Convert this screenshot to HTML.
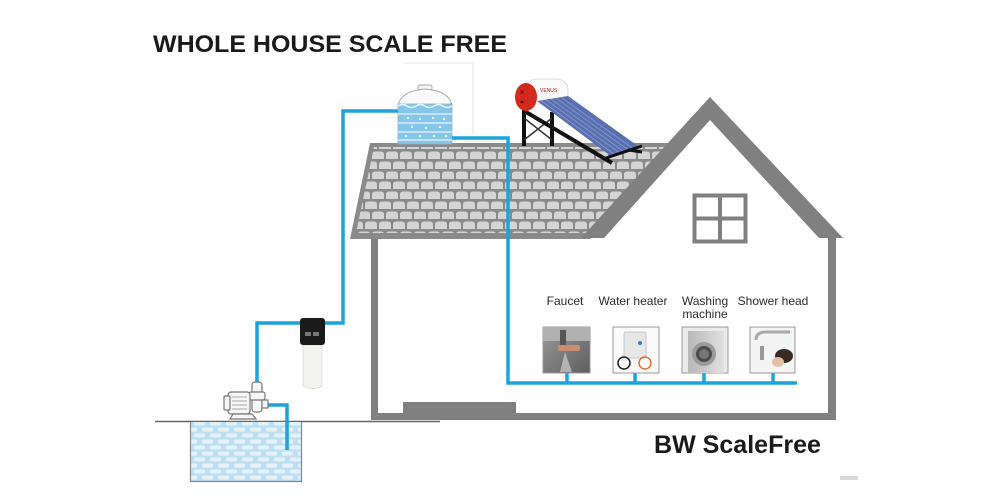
<!DOCTYPE html>
<html><head><meta charset="utf-8"><style>
html,body{margin:0;padding:0;background:#fff;}
svg{display:block;}
</style></head><body>
<svg width="1000" height="500" viewBox="0 0 1000 500" xmlns="http://www.w3.org/2000/svg">
<defs>
<pattern id="tiles" patternUnits="userSpaceOnUse" width="14" height="20">
<path d="M1,9 V4.5 Q1,1.5 4,1.5 H10 Q13,1.5 13,4.5 V9 Z" fill="#d4d4d4"/>
<path d="M-6,19 V14.5 Q-6,11.5 -3,11.5 H3 Q6,11.5 6,14.5 V19 Z" fill="#d4d4d4"/>
<path d="M8,19 V14.5 Q8,11.5 11,11.5 H17 Q20,11.5 20,14.5 V19 Z" fill="#d4d4d4"/>
</pattern>
<pattern id="bricks" patternUnits="userSpaceOnUse" width="16" height="12">
<rect width="16" height="12" fill="#bcdff4"/>
<rect x="2" y="1.5" width="11" height="4" rx="1.5" fill="#e4f2fb"/>
<rect x="-6" y="7.5" width="11" height="4" rx="1.5" fill="#e4f2fb"/>
<rect x="10" y="7.5" width="11" height="4" rx="1.5" fill="#e4f2fb"/>
</pattern>
<linearGradient id="fau" x1="0" y1="0" x2="1" y2="1">
<stop offset="0" stop-color="#9a9a9a"/><stop offset="1" stop-color="#5e5e5e"/>
</linearGradient>
<linearGradient id="wm" x1="0" y1="0" x2="1" y2="0">
<stop offset="0" stop-color="#b8b8b8"/><stop offset="1" stop-color="#e0e0e0"/>
</linearGradient>
</defs>

<!-- Title -->
<text x="153" y="52" font-family="Liberation Sans, sans-serif" font-size="24" font-weight="bold" fill="#1a1a1a" textLength="354" lengthAdjust="spacingAndGlyphs">WHOLE HOUSE SCALE FREE</text>

<!-- faint guide lines near tank -->
<path d="M403,63 H473 V135" fill="none" stroke="#e6e6e6" stroke-width="1"/>

<!-- House walls & floor -->
<rect x="371" y="236" width="7" height="184" fill="#808080"/>
<rect x="828" y="236" width="8" height="184" fill="#808080"/>
<rect x="371" y="413" width="465" height="7" fill="#808080"/>
<rect x="403" y="402" width="113" height="18" fill="#808080"/>

<!-- Ground line -->
<line x1="155" y1="421.5" x2="440" y2="421.5" stroke="#666" stroke-width="1.5"/>

<!-- Roof tiles -->
<polygon points="370,143 674,143 590,239 350,239" fill="#8a8a8a"/>
<polygon points="374,147 668,147 590,233 356,233" fill="url(#tiles)"/>

<!-- Gable -->
<polygon points="581,238 710,97 843,238 819,238 710,120 604,238" fill="#808080"/>

<!-- Window -->
<rect x="694.5" y="195.5" width="51" height="46" fill="none" stroke="#808080" stroke-width="4"/>
<line x1="720" y1="195" x2="720" y2="242" stroke="#808080" stroke-width="4"/>
<line x1="694" y1="218.5" x2="746" y2="218.5" stroke="#808080" stroke-width="4"/>

<!-- Solar heater -->
<g>
<line x1="524" y1="108" x2="524" y2="146" stroke="#111" stroke-width="4"/>
<line x1="552" y1="112" x2="552" y2="146" stroke="#111" stroke-width="4"/>
<line x1="524" y1="118" x2="552" y2="140" stroke="#333" stroke-width="1.5"/>
<line x1="552" y1="118" x2="524" y2="140" stroke="#333" stroke-width="1.5"/>
<line x1="526" y1="112" x2="612" y2="163" stroke="#111" stroke-width="4"/>
<rect x="526" y="79" width="42" height="25" rx="11" fill="#fafafa" stroke="#ddd" stroke-width="1"/>
<text x="540" y="92" font-family="Liberation Sans, sans-serif" font-size="5" fill="#b02020">VENUS</text>
<polygon points="537,101 568,96 638,146 612,157" fill="#5a6fb0"/>
<g stroke="#8b9bd0" stroke-width="0.8">
<line x1="541" y1="100.5" x2="616" y2="155.5"/>
<line x1="546" y1="99.7" x2="621" y2="154"/>
<line x1="551" y1="98.9" x2="625" y2="152.5"/>
<line x1="556" y1="98.1" x2="629" y2="150.5"/>
<line x1="561" y1="97.3" x2="633" y2="148.5"/>
</g>
<line x1="606" y1="158" x2="642" y2="146" stroke="#111" stroke-width="3"/>
<line x1="628" y1="150" x2="642" y2="152" stroke="#111" stroke-width="3"/>
<ellipse cx="526" cy="97" rx="11" ry="14" fill="#d42a1c"/>
<circle cx="522" cy="92" r="1.5" fill="#600"/>
<circle cx="522" cy="102" r="1.5" fill="#600"/>
</g>

<!-- Water tank -->
<g>
<rect x="418" y="85" width="14" height="5" rx="2" fill="#f4f4f4" stroke="#aaa" stroke-width="1"/>
<path d="M398,106 Q400,91 425,89 Q450,91 452,106 Z" fill="#fbfbfb" stroke="#aaa" stroke-width="1"/>
<rect x="398" y="104" width="54" height="40" fill="#86c6ea" stroke="#9ab" stroke-width="0.8"/>
<path d="M398,106 q4.5,-3 9,0 t9,0 t9,0 t9,0 t9,0 t9,0" fill="none" stroke="#e8f5fc" stroke-width="1.5"/>
<g stroke="#d6eefa" stroke-width="1.5">
<line x1="398" y1="114" x2="452" y2="114"/>
<line x1="398" y1="123" x2="452" y2="123"/>
<line x1="398" y1="132" x2="452" y2="132"/>
<line x1="398" y1="140" x2="452" y2="140"/>
</g>
<g fill="#e6f5fd">
<circle cx="408" cy="118" r="1.2"/><circle cx="420" cy="119" r="1.2"/><circle cx="433" cy="118" r="1.2"/><circle cx="444" cy="119" r="1.2"/>
<circle cx="412" cy="127" r="1.2"/><circle cx="426" cy="128" r="1.2"/><circle cx="440" cy="127" r="1.2"/>
<circle cx="406" cy="136" r="1.2"/><circle cx="420" cy="136" r="1.2"/><circle cx="434" cy="136" r="1.2"/><circle cx="446" cy="136" r="1.2"/>
</g>
</g>

<!-- Well -->
<rect x="190" y="422" width="112" height="59" fill="url(#bricks)"/>
<path d="M190.5,422 V481.5 H301.5 V422" fill="none" stroke="#888" stroke-width="1.2"/>

<!-- Pipes -->
<g fill="none" stroke="#1ba3dc" stroke-width="3.5" stroke-linejoin="miter">
<path d="M398,111 H343 V323 H257 V384"/>
<path d="M262,405 H287 V450"/>
<path d="M452,138 H508 V383 H797"/>
<path d="M567,373 V383 M635,373 V383 M704,373 V383 M773,373 V383"/>
</g>

<!-- Filter -->
<g>
<path d="M303,345 H322 V386 Q312,391 303,386 Z" fill="#f3f3f0" stroke="#ddd" stroke-width="1"/>
<rect x="300" y="318" width="25" height="27" rx="3" fill="#1a1a1a"/>
<rect x="305" y="332" width="6" height="4" fill="#777"/>
<rect x="313" y="332" width="6" height="4" fill="#777"/>
</g>

<!-- Pump -->
<g stroke="#777" stroke-width="1.2" fill="#f6f6f6">
<rect x="252" y="382" width="10" height="30" rx="3"/>
<rect x="249" y="392" width="16" height="8" rx="2"/>
<rect x="228" y="392" width="22" height="22" rx="3"/>
<rect x="224" y="396" width="6" height="14" rx="1"/>
<path d="M233,414 L230,419 H256 L252,414 Z"/>
<rect x="262" y="400" width="6" height="8"/>
</g>
<g stroke="#aaa" stroke-width="1">
<line x1="232" y1="397" x2="247" y2="397"/>
<line x1="232" y1="401" x2="247" y2="401"/>
<line x1="232" y1="405" x2="247" y2="405"/>
<line x1="232" y1="409" x2="247" y2="409"/>
</g>

<!-- Appliance labels -->
<g font-family="Liberation Sans, sans-serif" font-size="12" fill="#2a2a2a" text-anchor="middle">
<text x="565" y="305">Faucet</text>
<text x="633" y="305">Water heater</text>
<text x="705" y="305">Washing</text>
<text x="705" y="318">machine</text>
<text x="773" y="305">Shower head</text>
</g>

<!-- Faucet photo -->
<g>
<rect x="543" y="327" width="47" height="46" fill="url(#fau)" stroke="#999" stroke-width="1"/>
<rect x="543" y="327" width="47" height="14" fill="#b0b0b0"/>
<rect x="560" y="330" width="6" height="20" fill="#555"/>
<rect x="558" y="345" width="22" height="6" rx="2" fill="#c89070"/>
<path d="M565,352 L560,372 H572 Z" fill="#cfcfcf" opacity="0.7"/>
</g>
<!-- Water heater photo -->
<g>
<rect x="613" y="327" width="46" height="46" fill="#fafafa" stroke="#999" stroke-width="1"/>
<rect x="624" y="332" width="22" height="26" rx="2" fill="#e6e6e6" stroke="#bbb" stroke-width="0.8"/>
<circle cx="640" cy="343" r="2" fill="#3a7bd5"/>
<circle cx="624" cy="363" r="6" fill="none" stroke="#222" stroke-width="1.5"/>
<circle cx="645" cy="363" r="6" fill="none" stroke="#e0703a" stroke-width="1.5"/>
</g>
<!-- Washing machine photo -->
<g>
<rect x="682" y="327" width="46" height="46" fill="#eaeaea" stroke="#999" stroke-width="1"/>
<rect x="688" y="331" width="36" height="42" fill="url(#wm)"/>
<circle cx="704" cy="354" r="12" fill="#9a9a9a"/>
<circle cx="704" cy="354" r="8" fill="#4c4c4c"/>
<circle cx="704" cy="354" r="5" fill="#777"/>
</g>
<!-- Shower photo -->
<g>
<rect x="750" y="327" width="45" height="46" fill="#f4f4f4" stroke="#999" stroke-width="1"/>
<path d="M756,340 Q756,332 766,332 H790" fill="none" stroke="#aaa" stroke-width="3"/>
<rect x="760" y="346" width="4" height="14" fill="#999"/>
<ellipse cx="784" cy="356" rx="9" ry="7" fill="#3a2a22"/>
<ellipse cx="778" cy="362" rx="6" ry="5" fill="#e2c0a8"/>
</g>

<!-- Bottom label -->
<text x="654" y="453" font-family="Liberation Sans, sans-serif" font-size="25" font-weight="bold" fill="#1a1a1a" textLength="167" lengthAdjust="spacingAndGlyphs">BW ScaleFree</text>

<!-- tiny mark -->
<rect x="840" y="476" width="18" height="4" fill="#d8d8d8"/>
</svg>
</body></html>
